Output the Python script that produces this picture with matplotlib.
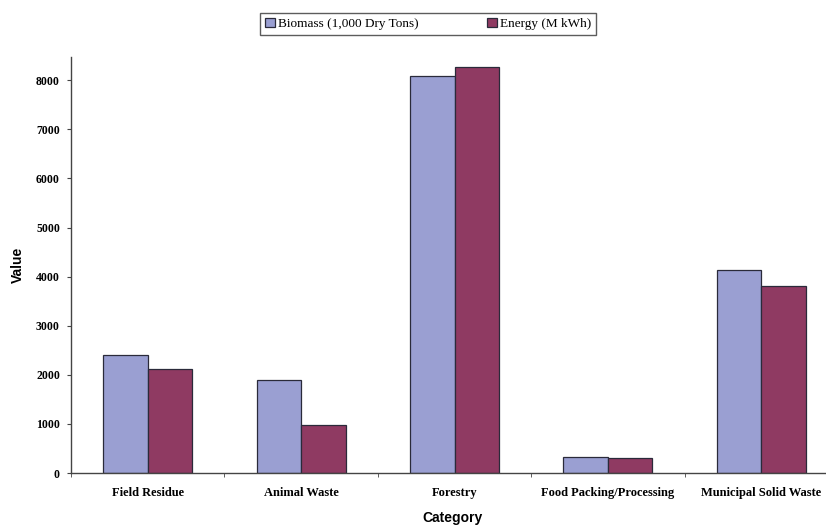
import numpy as np
import matplotlib
matplotlib.use("Agg")
import matplotlib.pyplot as plt

# === data ===
categories = ["Field Residue", "Animal Waste", "Forestry",
              "Food Packing/Processing", "Municipal Solid Waste"]
biomass = [2400, 1900, 8080, 330, 4140]
energy = [2120, 980, 8280, 310, 3800]
series_names = ["Biomass (1,000 Dry Tons)", "Energy (M kWh)"]
yticks = [0, 1000, 2000, 3000, 4000, 5000, 6000, 7000, 8000]

# === figure ===
fig = plt.figure(figsize=(8.26, 5.25), dpi=100)
ax = fig.add_axes([0.086, 0.099, 0.9286, 0.792])

x = np.arange(len(categories))
w = 0.29
ax.bar(x - w / 2, biomass, w, color="#9a9fd2", edgecolor="#2a2a3a",
       linewidth=0.9, label=series_names[0])
ax.bar(x + w / 2, energy, w, color="#8f3a62", edgecolor="#2a2a3a",
       linewidth=0.9, label=series_names[1])

ax.set_xlim(-0.5, len(categories) - 0.5)
ax.set_ylim(0, 8470)
ax.set_yticks(yticks)
ax.set_yticklabels([str(v) for v in yticks], fontfamily="Liberation Serif",
                   fontweight="bold", fontsize=8.5)

# category labels centred, ticks on boundaries
ax.set_xticks(x)
ax.set_xticklabels(categories, fontfamily="Liberation Serif",
                   fontweight="bold", fontsize=9)
ax.tick_params(axis="x", which="major", length=0, pad=10)
ax.set_xticks(np.arange(len(categories) + 1) - 0.5, minor=True)
ax.tick_params(axis="x", which="minor", length=3, direction="out",
               color="#444444")
ax.tick_params(axis="y", length=3, direction="out", color="#444444", pad=5)

for s in ["top", "right"]:
    ax.spines[s].set_visible(False)
for s in ["left", "bottom"]:
    ax.spines[s].set_color("#444444")
    ax.spines[s].set_linewidth(1.0)

ax.set_xlabel("Category", fontfamily="Liberation Sans", fontweight="bold",
              fontsize=10)
ax.set_ylabel("Value", fontfamily="Liberation Sans", fontweight="bold",
              fontsize=10)
ax.xaxis.set_label_coords(0.497, -0.092)
ax.yaxis.set_label_coords(-0.06, 0.5)

leg = fig.legend(loc="center", bbox_to_anchor=(428 / 826, 1 - 24 / 525),
                 ncol=2, frameon=True, fancybox=False, handlelength=0.75,
                 handleheight=0.75, handletextpad=0.2, columnspacing=5.2,
                 borderpad=0.4, borderaxespad=0,
                 prop={"family": "Liberation Serif", "size": 9.5})
leg.get_frame().set_edgecolor("#333333")
leg.get_frame().set_linewidth(1.0)

fig.savefig("out.png", dpi=100)
